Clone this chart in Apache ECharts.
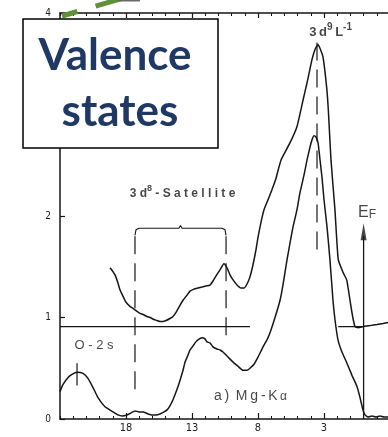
<!DOCTYPE html>
<html>
<head>
<meta charset="utf-8">
<style>
  html, body { margin: 0; padding: 0; background: #fff; }
  #chart { width: 388px; height: 437px; }
</style>
<script src="https://cdn.jsdelivr.net/npm/echarts@6/dist/echarts.min.js"></script>
</head>
<body>
<div id="chart"></div>
<script>
// Binding energy (eV) and intensity of the Mg-Kα valence band spectrum
const lowerEnergy = [23.0, 22.77, 22.39, 22.09, 21.71, 21.26, 20.88, 20.5, 20.12, 19.59, 18.98, 18.6, 18.3, 17.92, 17.62, 17.32, 17.02, 16.71, 16.33, 16.03, 15.73, 15.42, 15.12, 14.89, 14.67, 14.44, 14.14, 13.91, 13.68, 13.53, 13.3, 13.15, 12.92, 12.77, 12.55, 12.24, 12.02, 11.86, 11.64, 11.41, 11.11, 10.88, 10.65, 10.27, 9.89, 9.52, 9.14, 8.83, 8.61, 8.3, 8.0, 7.62, 7.32, 7.09, 6.71, 6.33, 6.11, 5.8, 5.58, 5.35, 5.05, 4.82, 4.52, 4.29, 4.06, 3.91, 3.76, 3.61, 3.45, 3.3, 3.15, 3.0, 2.77, 2.55, 2.32, 2.17, 1.94, 1.64, 1.26, 0.88, 0.5, 0.27, 0.05, -0.11, -0.33, -0.64, -0.94, -1.24, -1.55, -1.85];
const lowerIntensity = [0.27, 0.34, 0.41, 0.44, 0.46, 0.45, 0.40, 0.31, 0.21, 0.12, 0.07, 0.04, 0.03, 0.04, 0.06, 0.08, 0.07, 0.07, 0.05, 0.04, 0.04, 0.05, 0.07, 0.09, 0.13, 0.19, 0.29, 0.38, 0.48, 0.56, 0.63, 0.68, 0.72, 0.75, 0.78, 0.80, 0.79, 0.76, 0.75, 0.71, 0.69, 0.68, 0.66, 0.61, 0.56, 0.52, 0.48, 0.48, 0.50, 0.54, 0.61, 0.71, 0.78, 0.85, 1.00, 1.17, 1.32, 1.57, 1.73, 1.89, 2.06, 2.23, 2.40, 2.55, 2.68, 2.75, 2.79, 2.78, 2.72, 2.55, 2.38, 2.16, 1.89, 1.57, 1.17, 0.98, 0.78, 0.66, 0.55, 0.43, 0.32, 0.21, 0.09, 0.04, 0.02, 0.03, 0.02, 0.03, 0.02, 0.02];

// Second trace, drawn on an offset baseline
const upperEnergy = [19.21, 18.98, 18.83, 18.61, 18.45, 18.23, 18.0, 17.7, 17.47, 17.17, 16.94, 16.71, 16.41, 16.18, 15.88, 15.65, 15.42, 15.2, 14.97, 14.67, 14.44, 14.21, 13.91, 13.68, 13.38, 13.15, 12.85, 12.55, 12.24, 11.94, 11.64, 11.41, 11.18, 10.88, 10.58, 10.35, 10.12, 9.89, 9.59, 9.29, 9.06, 8.83, 8.61, 8.38, 8.15, 8.0, 7.77, 7.55, 7.24, 6.94, 6.64, 6.26, 5.58, 5.05, 4.59, 4.29, 3.91, 3.68, 3.45, 3.3, 3.08, 2.8, 2.67, 2.47, 2.17, 1.92, 1.54, 1.28, 1.03, 0.83, 0.65, 0.42, 0.05, -0.48, -1.02, -1.47, -1.85];
const upperIntensity = [1.49, 1.45, 1.42, 1.34, 1.27, 1.21, 1.15, 1.11, 1.09, 1.06, 1.04, 1.03, 1.01, 1.00, 0.98, 0.97, 0.96, 0.96, 0.97, 0.99, 1.01, 1.05, 1.12, 1.17, 1.22, 1.26, 1.28, 1.29, 1.30, 1.31, 1.32, 1.36, 1.41, 1.47, 1.53, 1.49, 1.42, 1.37, 1.32, 1.29, 1.29, 1.33, 1.40, 1.52, 1.67, 1.79, 1.94, 2.06, 2.16, 2.26, 2.37, 2.55, 2.72, 2.88, 3.14, 3.31, 3.54, 3.64, 3.69, 3.65, 3.57, 3.27, 3.04, 2.55, 2.06, 1.57, 1.44, 1.37, 1.17, 1.01, 0.91, 0.90, 0.91, 0.92, 0.93, 0.94, 0.95];

// Offset baseline of the second trace
const baselineLevel = 0.91;
const baselineLeft = [23, 8.61];
const baselineRight = [1.92, 0];

// Feature markers (energy positions)
const satelliteBounds = [17.32, 10.42];
const mainPeakEnergy = 3.53;
const oxygenPeakEnergy = 21.71;
const fermiEnergy = 0;

// Axis ticks
const majorTicks = [3, 8, 13, 18];
const minorTicks = [];
for (let e = -2; e <= 23; e++) minorTicks.push(e);
const yTicks = [0, 1, 2, 3, 4];

const pair = (xs, ys) => xs.map((x, i) => [x, ys[i]]);

const ink = '#161616';
const labelFont = "'Liberation Sans', Arial, sans-serif";
const narrowFont = "'Liberation Sans Narrow', 'DejaVu Sans Condensed', 'Liberation Sans', sans-serif";

const xBase = {
  type: 'value', min: -2, max: 23, inverse: true, gridIndex: 0,
  splitLine: { show: false }
};

const chart = echarts.init(document.getElementById('chart'), null, { renderer: 'canvas' });

const curveStyle = { color: ink, width: 1.5 };
const dashStyle = { color: ink, width: 1.2, type: [18, 9] };

chart.setOption({
  animation: false,
  backgroundColor: '#fff',
  grid: { left: 60, top: 13, right: -2, bottom: 18, outerBoundsMode: 'none', containLabel: false },
  xAxis: [
    Object.assign({}, xBase, {
      position: 'bottom',
      axisLine: { show: true, onZero: false, lineStyle: { color: ink, width: 1.5 } },
      axisTick: { show: true, inside: true, length: 3, customValues: minorTicks, lineStyle: { color: ink, width: 1 } },
      axisLabel: { show: false }
    }),
    Object.assign({}, xBase, {
      position: 'bottom',
      axisLine: { show: false, onZero: false },
      axisTick: { show: true, inside: true, length: 6, customValues: majorTicks, lineStyle: { color: ink, width: 1.2 } },
      axisLabel: { show: true, customValues: majorTicks, margin: 4, color: '#222', fontSize: 11, fontFamily: narrowFont }
    }),
    Object.assign({}, xBase, {
      position: 'top',
      axisLine: { show: true, onZero: false, lineStyle: { color: ink, width: 1.5 } },
      axisTick: { show: true, inside: true, length: 3, customValues: minorTicks, lineStyle: { color: ink, width: 1 } },
      axisLabel: { show: false }
    }),
    Object.assign({}, xBase, {
      position: 'top',
      axisLine: { show: false, onZero: false },
      axisTick: { show: true, inside: true, length: 5, customValues: majorTicks, lineStyle: { color: ink, width: 1.2 } },
      axisLabel: { show: false }
    })
  ],
  yAxis: {
    type: 'value', min: 0, max: 4, interval: 1, position: 'left',
    axisLine: { show: true, onZero: false, lineStyle: { color: ink, width: 1.5 } },
    axisTick: { show: true, inside: true, length: 5, lineStyle: { color: ink, width: 1.2 } },
    axisLabel: { show: true, margin: 9, color: '#222', fontSize: 10, fontFamily: narrowFont, customValues: yTicks },
    splitLine: { show: false }
  },
  series: [
    {
      name: 'Mg-Kα', type: 'line', xAxisIndex: 0, showSymbol: false, smooth: 0.15,
      lineStyle: curveStyle, data: pair(lowerEnergy, lowerIntensity), z: 3
    },
    {
      name: 'offset', type: 'line', xAxisIndex: 0, showSymbol: false, smooth: 0.15,
      lineStyle: curveStyle, data: pair(upperEnergy, upperIntensity), z: 3
    },
    {
      name: 'baseline-left', type: 'line', xAxisIndex: 0, showSymbol: false,
      lineStyle: { color: ink, width: 1.4 },
      data: baselineLeft.map(e => [e, baselineLevel])
    },
    {
      name: 'baseline-right', type: 'line', xAxisIndex: 0, showSymbol: false,
      lineStyle: { color: ink, width: 1.4 },
      data: baselineRight.map(e => [e, baselineLevel])
    },
    {
      name: 'sat-left', type: 'line', xAxisIndex: 0, showSymbol: false, lineStyle: dashStyle,
      data: [[satelliteBounds[0], 1.80], [satelliteBounds[0], 0.29]]
    },
    {
      name: 'sat-right', type: 'line', xAxisIndex: 0, showSymbol: false, lineStyle: dashStyle,
      data: [[satelliteBounds[1], 1.80], [satelliteBounds[1], 0.76]]
    },
    {
      name: 'bracket', type: 'line', xAxisIndex: 0, showSymbol: false,
      lineStyle: { color: ink, width: 1.1 },
      data: [
        [satelliteBounds[0], 1.81], [satelliteBounds[0] - 0.08, 1.865], [satelliteBounds[0] - 0.3, 1.88],
        [(satelliteBounds[0] + satelliteBounds[1]) / 2 + 0.12, 1.88],
        [(satelliteBounds[0] + satelliteBounds[1]) / 2, 1.905],
        [(satelliteBounds[0] + satelliteBounds[1]) / 2 - 0.12, 1.88],
        [satelliteBounds[1] + 0.3, 1.88], [satelliteBounds[1] + 0.08, 1.865], [satelliteBounds[1], 1.81]
      ]
    },
    {
      name: 'peak-marker', type: 'line', xAxisIndex: 0, showSymbol: false, lineStyle: dashStyle,
      data: [[mainPeakEnergy, 3.71], [mainPeakEnergy, 1.66]]
    },
    {
      name: 'o2s-marker', type: 'line', xAxisIndex: 0, showSymbol: false,
      lineStyle: { color: ink, width: 1.2 },
      data: [[oxygenPeakEnergy, 0.55], [oxygenPeakEnergy, 0.33]]
    },
    {
      name: 'fermi', type: 'line', xAxisIndex: 0, showSymbol: false,
      lineStyle: { color: ink, width: 1.3 },
      data: [[fermiEnergy, 0], [fermiEnergy, 1.8]]
    },
    {
      name: 'fermi-head', type: 'scatter', xAxisIndex: 0, symbol: 'triangle', symbolSize: [6, 17],
      itemStyle: { color: ink }, data: [[fermiEnergy, 1.845]], z: 4
    },
    {
      name: 'annotations', type: 'scatter', xAxisIndex: 0, symbolSize: 0, z: 5,
      label: { show: true, position: 'inside', align: 'center', verticalAlign: 'middle', color: ink, fontFamily: labelFont },
      data: [
        {
          value: [2.5, 3.83],
          label: {
            formatter: '{b|3\u2009d}{s|9}{b|\u2009L}{s|-1}',
            rich: {
              b: { fontSize: 13, fontWeight: 'bold', lineHeight: 17, verticalAlign: 'bottom', fontFamily: labelFont, color: ink },
              s: { fontSize: 10, fontWeight: 'bold', lineHeight: 10, verticalAlign: 'top', fontFamily: labelFont, color: ink }
            }
          }
        },
        {
          value: [13.72, 2.24],
          label: {
            formatter: '{b|3 d}{s|8}{b| - S a t e l l i t e}',
            rich: {
              b: { fontSize: 12, fontWeight: 'bold', lineHeight: 16, verticalAlign: 'bottom', fontFamily: labelFont, color: ink },
              s: { fontSize: 9, fontWeight: 'bold', lineHeight: 9, verticalAlign: 'top', fontFamily: labelFont, color: ink }
            }
          }
        },
        {
          value: [-0.26, 2.03],
          label: {
            formatter: '{e|E}{f|F}',
            rich: {
              e: { fontSize: 16, lineHeight: 16, verticalAlign: 'top', fontFamily: labelFont, color: ink },
              f: { fontSize: 12, lineHeight: 12, verticalAlign: 'bottom', padding: [8, 0, 0, 0], fontFamily: labelFont, color: ink }
            }
          }
        },
        {
          value: [20.42, 0.72],
          label: { formatter: 'O - 2 s', fontSize: 13, fontFamily: labelFont, color: ink }
        },
        {
          value: [8.57, 0.236],
          label: {
            formatter: '{t|a\u2009)\u2009 M\u2009g\u2009-\u2009K}{s|\u2009α}',
            rich: {
              t: { fontSize: 14, lineHeight: 16, verticalAlign: 'bottom', fontFamily: labelFont, color: ink },
              s: { fontSize: 12, lineHeight: 12, verticalAlign: 'bottom', fontFamily: labelFont, color: ink }
            }
          }
        }
      ]
    }
  ],
  graphic: [
    {
      type: 'line', z: 90,
      shape: { x1: 62, y1: 16, x2: 175, y2: -17 },
      style: { stroke: '#5f9136', lineWidth: 5, lineDash: [16, 19, 40, 19] }
    },
    {
      type: 'rect', z: 90,
      shape: { x: 117, y: 0, width: 23, height: 1.5 },
      style: { fill: '#6a6a6a' }
    },
    {
      type: 'rect', z: 100,
      shape: { x: 23, y: 19, width: 195, height: 129 },
      style: { fill: '#ffffff', stroke: '#000', lineWidth: 1.5 }
    },
    {
      type: 'text', z: 101,
      style: { text: 'Valence', x: 115, y: 56, align: 'center', verticalAlign: 'middle', fill: '#1f3864', font: "bold 44px Lato, 'Open Sans', sans-serif" }
    },
    {
      type: 'text', z: 101,
      style: { text: 'states', x: 120, y: 112, align: 'center', verticalAlign: 'middle', fill: '#1f3864', font: "bold 44px Lato, 'Open Sans', sans-serif" }
    }
  ]
});
</script>
</body>
</html>
